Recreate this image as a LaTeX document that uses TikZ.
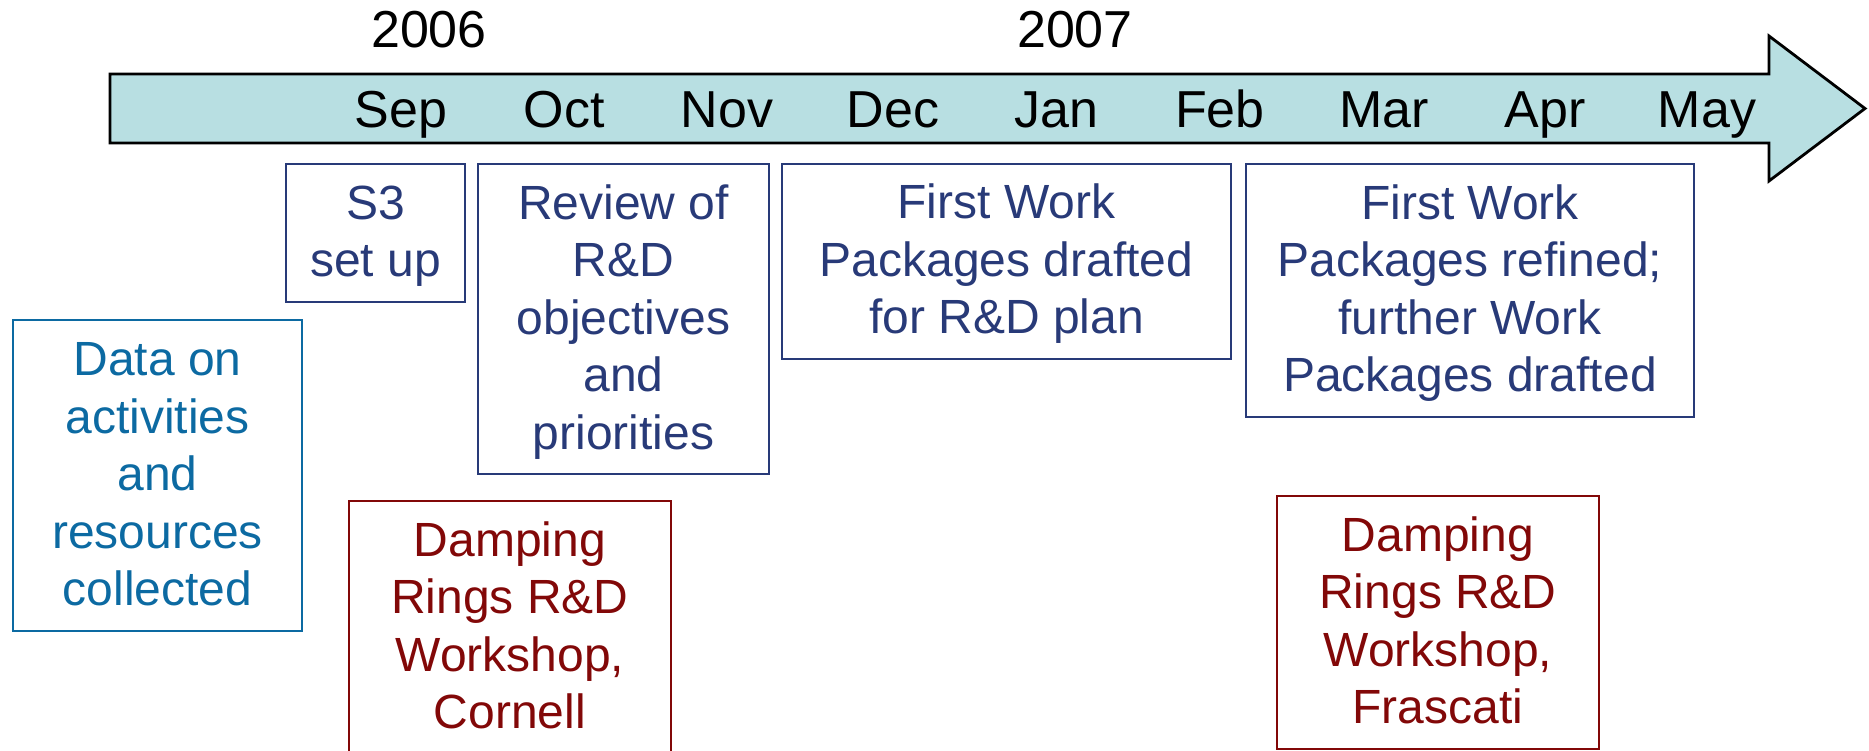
\documentclass[tikz,border=0pt]{standalone}
\usepackage{fontspec}
\setmainfont{Liberation Sans}

% colours of the timeline
\definecolor{arrowfill}{RGB}{184,223,226}
\definecolor{navytext}{RGB}{40,58,120}
\definecolor{bluetext}{RGB}{12,106,162}
\definecolor{redtext}{RGB}{130,8,8}

% a strut that gives every line of a box the same height and depth
\newcommand{\boxline}{\rule[-11pt]{0pt}{52pt}}

\tikzset{
  monthlabel/.style={anchor=base, inner sep=0pt, font=\fontsize{52}{60}\selectfont},
  eventbox/.style={draw, line width=2.5pt, inner sep=0pt, align=center,
                   font=\fontsize{48}{57.5}\selectfont},
  navybox/.style={eventbox, draw=navytext, text=navytext},
  bluebox/.style={eventbox, draw=bluetext, text=bluetext},
  redbox/.style={eventbox, draw=redtext, text=redtext},
}

\begin{document}
\begin{tikzpicture}[x=1pt, y=-1pt]
\useasboundingbox (0,0) rectangle (1869,751);

% timeline arrow
\draw[line width=2.8pt, fill=arrowfill]
  (110,74) -- (1769,74) -- (1769,36) -- (1865,108.5) -- (1769,181)
  -- (1769,143) -- (110,143) -- cycle;

% years
\node[monthlabel] (y2006) at (429,48) {2006};
\node[monthlabel] (y2007) at (1075,48) {2007};

% months
\node[monthlabel] (sep) at (401,128) {Sep};
\node[monthlabel] (oct) at (564,128) {Oct};
\node[monthlabel] (nov) at (727,128) {Nov};
\node[monthlabel] (dec) at (893,128) {Dec};
\node[monthlabel] (jan) at (1056,128) {Jan};
\node[monthlabel] (feb) at (1220,128) {Feb};
\node[monthlabel] (mar) at (1384,128) {Mar};
\node[monthlabel] (apr) at (1545,128) {Apr};
\node[monthlabel] (may) at (1707,128) {May};

% activities
\node[navybox, minimum width=179pt, minimum height=138pt] (s3) at (375.5,233)
  {\boxline S3\\ \boxline set up};
\node[navybox, minimum width=291pt, minimum height=310pt] (review) at (623.5,319)
  {\boxline Review of\\ \boxline R\&D\\ \boxline objectives\\ \boxline and\\ \boxline priorities};
\node[navybox, minimum width=449pt, minimum height=195pt] (wpdraft) at (1006.5,261.5)
  {\boxline First Work\\ \boxline Packages drafted\\ \boxline for R\&D plan};
\node[navybox, minimum width=448pt, minimum height=253pt] (wprefine) at (1470,290.5)
  {\boxline First Work\\ \boxline Packages refined;\\ \boxline further Work\\ \boxline Packages drafted};
\node[bluebox, minimum width=289pt, minimum height=311pt] (data) at (157.5,475.5)
  {\boxline Data on\\ \boxline activities\\ \boxline and\\ \boxline resources\\ \boxline collected};

% workshops
\node[redbox, minimum width=322pt, minimum height=253pt] (cornell) at (510,627.5)
  {\boxline Damping\\ \boxline Rings R\&D\\ \boxline Workshop,\\ \boxline Cornell};
\node[redbox, minimum width=322pt, minimum height=253pt] (frascati) at (1438,622.5)
  {\boxline Damping\\ \boxline Rings R\&D\\ \boxline Workshop,\\ \boxline Frascati};
\end{tikzpicture}
\end{document}
